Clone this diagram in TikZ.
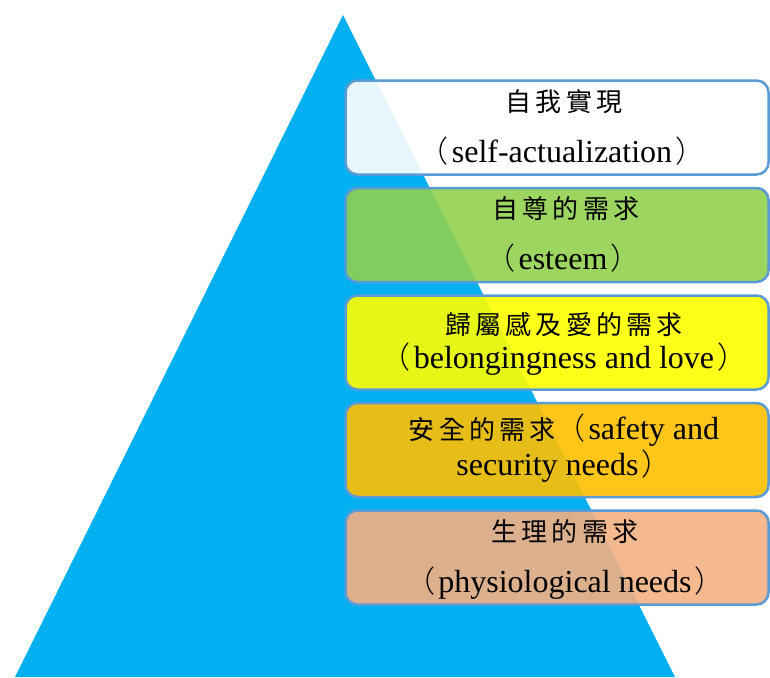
\documentclass[tikz,border=0pt]{standalone}
\usepackage{fontspec}
\setmainfont{Liberation Serif}
\newfontfamily\cjk[LetterSpace=16]{Noto Sans CJK TC}
\newfontfamily\cjkp{Noto Sans CJK TC Light}
\newcommand{\cj}[1]{{\cjk\fontsize{26pt}{30pt}\selectfont #1}}
\newcommand{\lp}{{\cjkp\fontsize{30pt}{30pt}\selectfont （}\kern3pt}
\newcommand{\rp}{\kern3pt{\cjkp\fontsize{30pt}{30pt}\selectfont ）}}
\definecolor{triblue}{HTML}{00B0F0}
\definecolor{edgeblue}{HTML}{5B9BD5}
\definecolor{cA}{HTML}{FFFFFF}
\definecolor{cB}{HTML}{92D050}
\definecolor{cC}{HTML}{FFFF00}
\definecolor{cD}{HTML}{FFC000}
\definecolor{cE}{HTML}{F4B183}
\tikzset{
  levelbox/.style={draw=edgeblue, line width=2.5pt, rounded corners=12pt,
    fill opacity=0.9, minimum width=423pt, minimum height=94pt, inner sep=0pt},
  cjkline/.style={anchor=base, inner sep=0pt, font=\cjk\fontsize{26pt}{30pt}\selectfont},
  engline/.style={anchor=base, inner sep=0pt, font=\fontsize{32pt}{36pt}\selectfont},
}
\begin{document}
\begin{tikzpicture}[x=1pt,y=-1pt]
\useasboundingbox (0,0) rectangle (770,677);
\fill[triblue] (343,15) -- (15,677) -- (675,677) -- cycle;
\node[levelbox, fill=cA] (b1) at (557,127.5) {};
\node[levelbox, fill=cB] (b2) at (557,235) {};
\node[levelbox, fill=cC] (b3) at (557,342.5) {};
\node[levelbox, fill=cD] (b4) at (557,450) {};
\node[levelbox, fill=cE] (b5) at (557,557.5) {};
\node[cjkline] (t1a) at (564,111) {自我實現};
\node[engline] (t1b) at (562,162) {\lp self-actualization\rp};
\node[cjkline] (t2a) at (566,218) {自尊的需求};
\node[engline] (t2b) at (563,269) {\lp esteem\rp};
\node[cjkline] (t3a) at (564,334) {歸屬感及愛的需求};
\node[engline] (t3b) at (564,368) {\lp belongingness and love\rp};
\node[engline] (t4a) at (564,439) {\cj{安全的需求}\lp safety and};
\node[engline] (t4b) at (564,475) {security needs\rp};
\node[cjkline] (t5a) at (565,541) {生理的需求};
\node[engline] (t5b) at (565,592) {\lp physiological needs\rp};
\end{tikzpicture}
\end{document}
